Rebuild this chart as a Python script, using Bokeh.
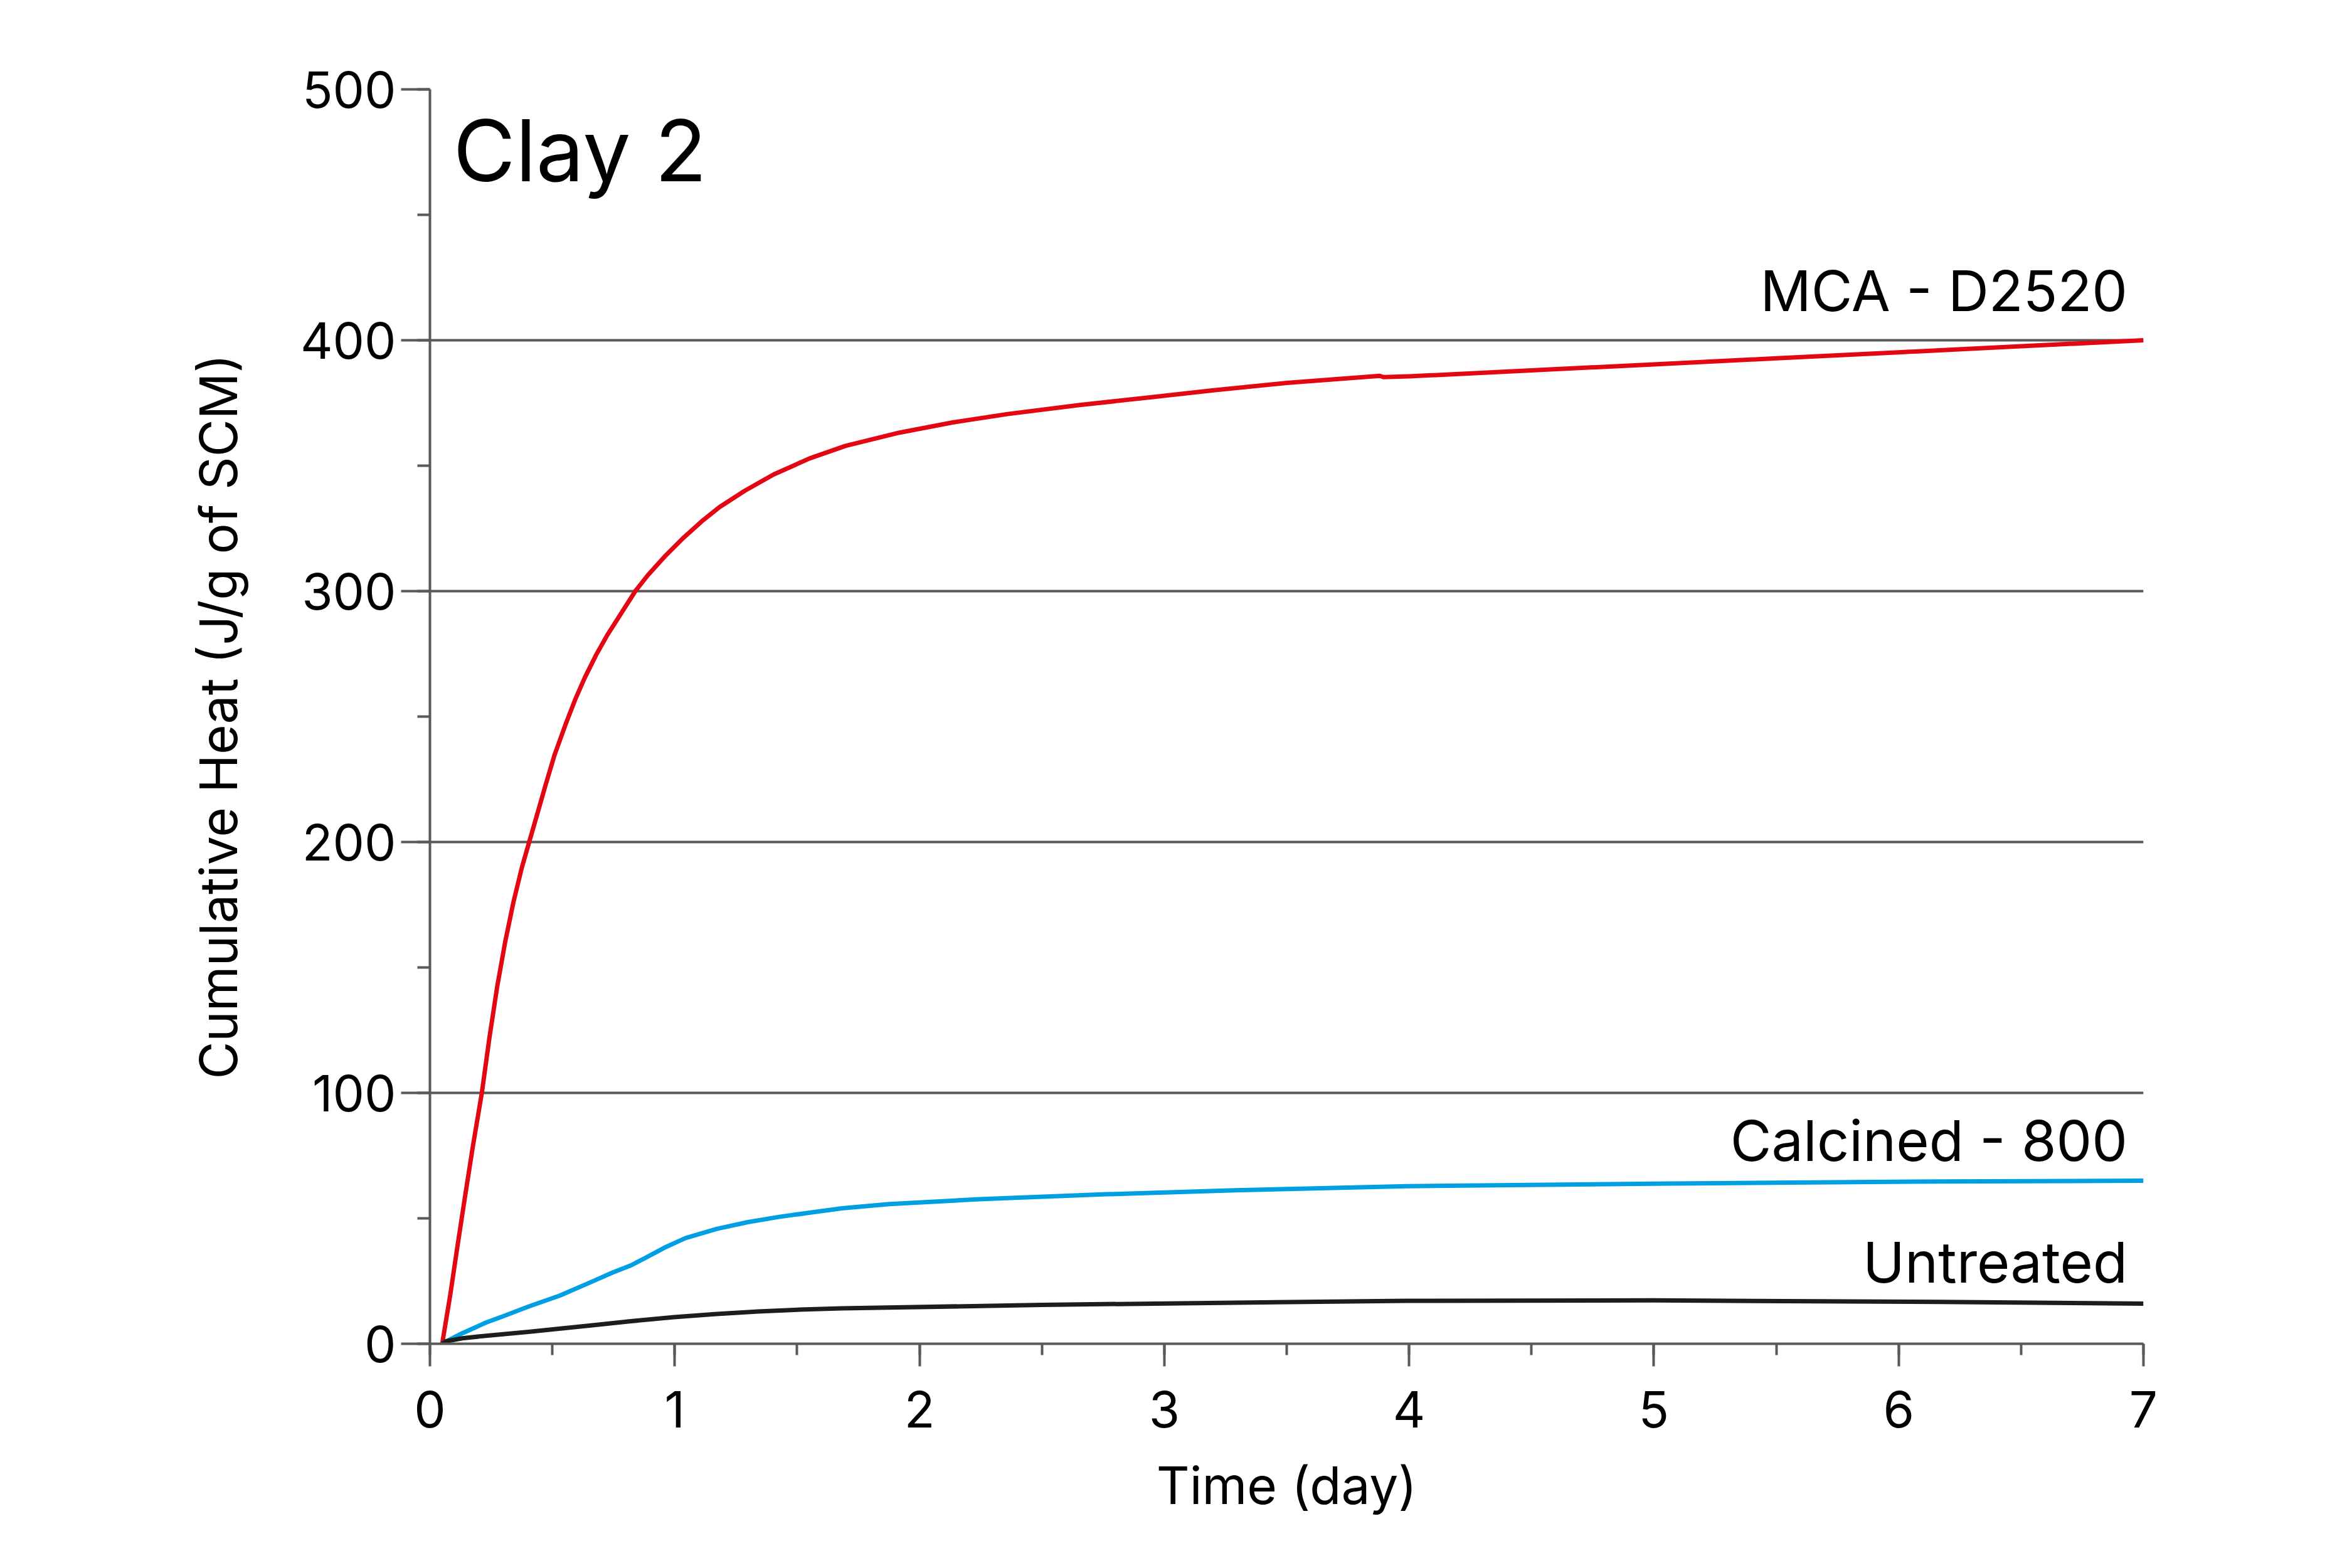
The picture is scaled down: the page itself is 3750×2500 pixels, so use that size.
from bokeh.plotting import figure
from bokeh.models import Range1d, SingleIntervalTicker, Label
from bokeh.embed import file_html
from bokeh.resources import INLINE

# ---- data ----
mca_t = [0.05, 0.083, 0.112, 0.142, 0.175, 0.212, 0.243, 0.275, 0.307, 0.341,
         0.376, 0.406, 0.44, 0.472, 0.508, 0.553, 0.593, 0.633, 0.679, 0.724,
         0.782, 0.839, 0.889, 0.963, 1.036, 1.110, 1.183, 1.286, 1.404, 1.551,
         1.698, 1.919, 2.139, 2.36, 2.654, 2.948, 3.195, 3.5, 3.88, 3.895, 4.0,
         4.5, 5.0, 5.5, 6.0, 6.5, 7.0]
mca_q = [0, 19.5, 38.6, 57.8, 78.5, 100, 122, 142.5, 160, 176,
         190, 200.2, 211.7, 222.6, 234.4, 246.6, 256.7, 265.6, 274.6, 282.4,
         291.3, 300, 306.2, 314.2, 321.3, 327.8, 333.5, 340, 346.5, 352.9,
         357.9, 363.2, 367.3, 370.6, 374.2, 377.3, 380.0, 383.0, 385.8, 385.3, 385.6,
         388.0, 390.4, 392.8, 395.2, 397.6, 400.0]

cal_t = [0.05, 0.063, 0.132, 0.23, 0.30, 0.402, 0.530, 0.658, 0.744, 0.821, 0.881,
         0.958, 1.043, 1.171, 1.299, 1.427, 1.555, 1.683, 1.877, 2.243, 2.766, 3.29,
         3.99, 5.0, 6.17, 7.0]
cal_q = [0, 0.8, 4.2, 8.5, 11.0, 14.8, 19.2, 24.6, 28.3, 31.25, 34.3,
         38.3, 42.1, 45.8, 48.5, 50.6, 52.3, 54.0, 55.7, 57.6, 59.6, 61.2,
         62.8, 63.8, 64.7, 65.0]

unt_t = [0.05, 0.066, 0.132, 0.25, 0.402, 0.658, 0.821, 0.998, 1.171, 1.341, 1.512,
         1.683, 2.5, 3.29, 3.99, 5.0, 6.17, 7.0]
unt_q = [0, 1.0, 2.2, 3.4, 4.75, 7.3, 9.0, 10.6, 11.9, 12.9, 13.6,
         14.1, 15.5, 16.4, 17.1, 17.3, 16.7, 16.0]

series_names = ["MCA - D2520", "Calcined - 800", "Untreated"]
series_colors = ["#e30613", "#009fe3", "#1d1d1b"]

x_label = "Time (day)"
y_label = "Cumulative Heat (J/g of SCM)"
panel_title = "Clay 2"

FONT = "Inter"
AX = "#595959"

p = figure(width=3734, height=2484, x_range=Range1d(0, 7), y_range=Range1d(0, 500),
           output_backend="svg", toolbar_location=None,
           min_border_left=685, min_border_right=317,
           min_border_top=142, min_border_bottom=342)
p.outline_line_color = None
p.background_fill_color = "white"
p.border_fill_color = "white"

p.xgrid.visible = False
p.ygrid.ticker = SingleIntervalTicker(interval=100)
p.ygrid.grid_line_color = AX
p.ygrid.grid_line_width = 4

p.xaxis.ticker = SingleIntervalTicker(interval=1, num_minor_ticks=2)
p.yaxis.ticker = SingleIntervalTicker(interval=100, num_minor_ticks=2)

for ax in (p.xaxis, p.yaxis):
    ax.axis_line_color = AX
    ax.axis_line_width = 4
    ax.major_tick_line_color = AX
    ax.major_tick_line_width = 4
    ax.minor_tick_line_color = AX
    ax.minor_tick_line_width = 4
    ax.major_tick_in = 0
    ax.minor_tick_in = 0
    ax.major_label_text_font = FONT
    ax.major_label_text_font_size = "80px"
    ax.major_label_text_color = "black"
    ax.axis_label_text_font = FONT
    ax.axis_label_text_font_size = "82px"
    ax.axis_label_text_font_style = "normal"
    ax.axis_label_text_color = "black"

p.xaxis.major_tick_out = 36
p.xaxis.minor_tick_out = 18
p.xaxis.major_label_standoff = 39
p.xaxis.axis_label = x_label
p.xaxis.axis_label_standoff = 40

p.yaxis.major_tick_out = 46
p.yaxis.minor_tick_out = 20
p.yaxis.major_label_standoff = 8
p.yaxis.axis_label = y_label
p.yaxis.axis_label_standoff = 78

for t, q, c in zip([mca_t, cal_t, unt_t], [mca_q, cal_q, unt_q], series_colors):
    p.line(t, q, line_color=c, line_width=7, line_join="round")

label_y = [419.8, 81.0, 32.5]
for name, ly in zip(series_names, label_y):
    p.add_layout(Label(x=6.935, y=ly, text=name, text_align="right",
                       text_baseline="alphabetic", text_font=FONT,
                       text_font_size="90px", text_color="black"))

p.add_layout(Label(x=0.095, y=475.7, text=panel_title, text_align="left",
                   text_baseline="alphabetic", text_font=FONT,
                   text_font_size="136px", text_color="black"))

open("out.html", "w").write(file_html(p, INLINE))
